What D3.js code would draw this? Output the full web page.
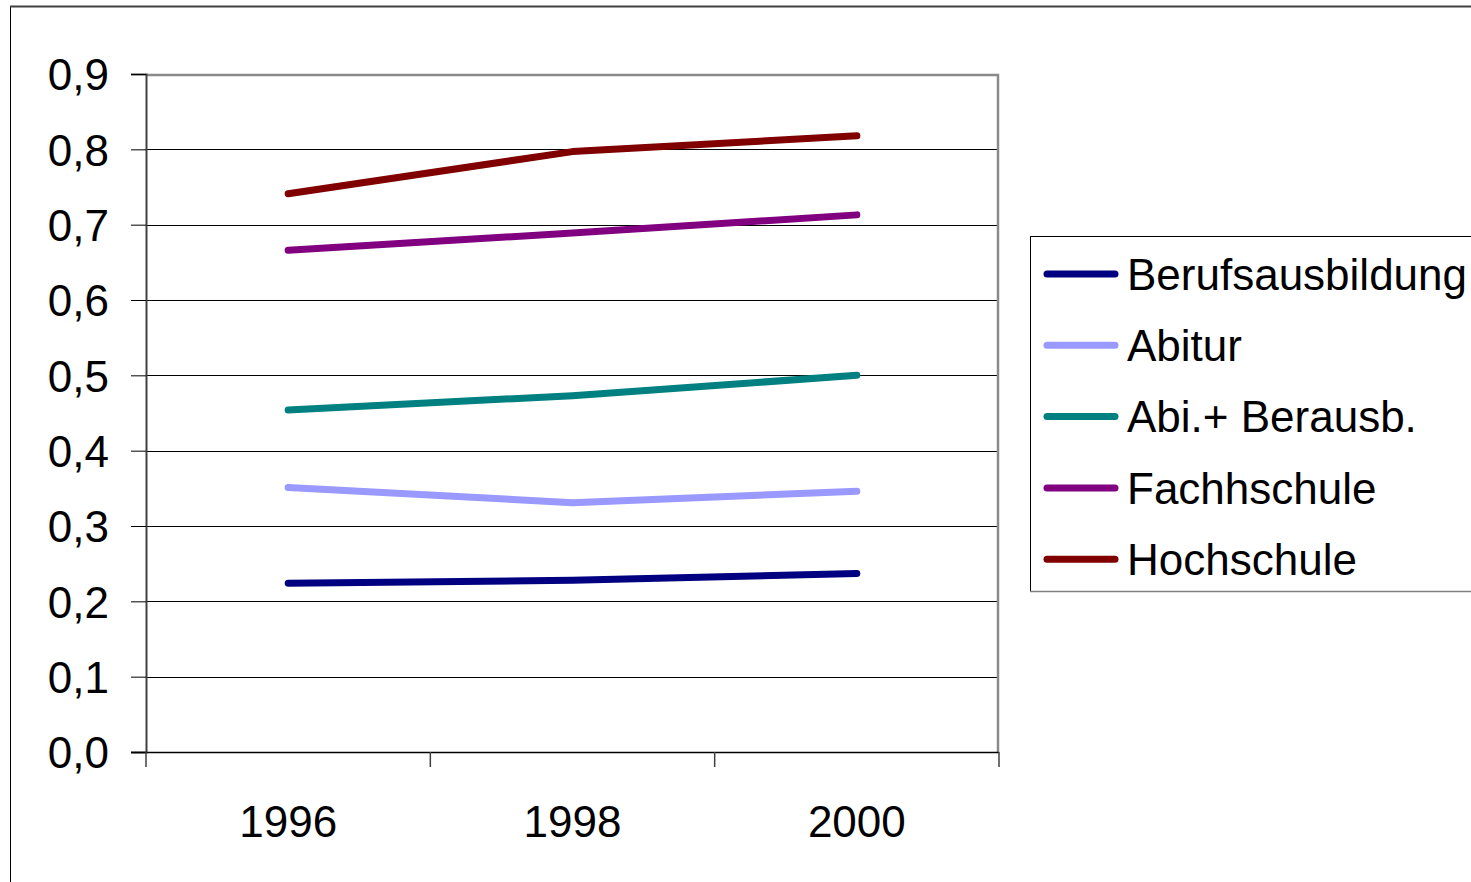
<!DOCTYPE html>
<html>
<head>
<meta charset="utf-8">
<script src="https://cdn.jsdelivr.net/npm/d3@7"></script>
<style>
  html, body { margin: 0; padding: 0; background: #fff; overflow: hidden; }
  svg { display: block; }
  text { font-family: "Liberation Sans", Arial, sans-serif; fill: #000; }
</style>
</head>
<body>
<svg id="chart" width="1471" height="882"></svg>
<script>
const years = ["1996", "1998", "2000"];
const seriesNames = ["Berufsausbildung", "Abitur", "Abi.+ Berausb.", "Fachhschule", "Hochschule"];
const berufsausbildung = [0.224, 0.228, 0.237];
const abitur = [0.351, 0.331, 0.346];
const abiBerausb = [0.454, 0.473, 0.500];
const fachhschule = [0.666, 0.689, 0.713];
const hochschule = [0.741, 0.797, 0.818];
const yTicks = [0, 0.1, 0.2, 0.3, 0.4, 0.5, 0.6, 0.7, 0.8, 0.9];
const seriesColors = ["#000080", "#9999FF", "#008080", "#800080", "#800000"];

const seriesValues = [berufsausbildung, abitur, abiBerausb, fachhschule, hochschule];

const svg = d3.select("#chart");
const pL = 146, pR = 999, pT = 74, pB = 752;

// outer chart frame
svg.append("rect").attr("x", 10.5).attr("y", 6.5).attr("width", 1500).attr("height", 900)
  .attr("fill", "#fff").attr("stroke", "#000").attr("stroke-width", 1);
svg.append("line").attr("x1", 10).attr("x2", 1471).attr("y1", 6.5).attr("y2", 6.5)
  .attr("stroke", "#404040").attr("stroke-width", 2);

const x = d3.scaleBand().domain(years).range([pL, pR]).padding(0);
const y = d3.scaleLinear().domain([0, 0.9]).range([pB, pT]);

// gridlines
svg.append("g").selectAll("line").data(yTicks.filter(t => t > 0 && t < 0.9)).join("line")
  .attr("x1", pL).attr("x2", pR)
  .attr("y1", d => Math.round(y(d)) + 0.5).attr("y2", d => Math.round(y(d)) + 0.5)
  .attr("stroke", "#000").attr("stroke-width", 1);

// plot border (top/right gray)
svg.append("path")
  .attr("d", `M${pL},${pT + 1} H${pR - 1} V${pB}`)
  .attr("fill", "none").attr("stroke", "#8a8a8a").attr("stroke-width", 2.5);

// y axis
const yAxis = d3.axisLeft(y).tickValues(yTicks).tickSize(15).tickPadding(22)
  .tickFormat(d => d3.format(".1f")(d).replace(".", ","));
const gy = svg.append("g").attr("transform", `translate(${pL},0)`).call(yAxis);
gy.select(".domain").attr("stroke", "#404040").attr("stroke-width", 2);
gy.selectAll(".tick line").attr("stroke", "#000").attr("stroke-width", 1);
gy.selectAll(".tick text").attr("font-size", 44).attr("font-family", "Liberation Sans, Arial, sans-serif")
  .attr("dy", "0.36em");

// x axis
const xAxis = d3.axisBottom(x).tickSize(0).tickPadding(0);
const gx = svg.append("g").attr("transform", `translate(0,${pB})`).call(xAxis);
gx.select(".domain").remove();
gx.selectAll(".tick text").attr("font-size", 44).attr("font-family", "Liberation Sans, Arial, sans-serif")
  .attr("dy", 0).attr("y", 85);
svg.append("line").attr("x1", pL - 15).attr("x2", pR).attr("y1", pB + 0.5).attr("y2", pB + 0.5)
  .attr("stroke", "#000").attr("stroke-width", 1.5);
const bandEdges = years.map(d => x(d)).concat([pR]);
svg.append("g").selectAll("line").data(bandEdges).join("line")
  .attr("x1", d => d).attr("x2", d => d).attr("y1", pB).attr("y2", pB + 15)
  .attr("stroke", "#404040").attr("stroke-width", 1.5);

// lines
const line = d3.line().x((d, i) => x(years[i]) + x.bandwidth() / 2).y(d => y(d));
svg.append("g").selectAll("path").data(seriesValues).join("path")
  .attr("d", d => line(d))
  .attr("fill", "none")
  .attr("stroke", (d, i) => seriesColors[i])
  .attr("stroke-width", 7)
  .attr("stroke-linecap", "round")
  .attr("stroke-linejoin", "round");

// legend
const lg = svg.append("g").attr("transform", "translate(1030,236)");
lg.append("rect").attr("x", 0.5).attr("y", 0.5).attr("width", 500).attr("height", 355)
  .attr("fill", "#fff").attr("stroke", "#000").attr("stroke-width", 1);
lg.append("line").attr("x1", 0).attr("x2", 500).attr("y1", 355.5).attr("y2", 355.5)
  .attr("stroke", "#808080").attr("stroke-width", 1.5);
const items = lg.selectAll("g.item").data(seriesNames).join("g").attr("class", "item")
  .attr("transform", (d, i) => `translate(0,${38 + i * 71.3})`);
items.append("line").attr("x1", 17).attr("x2", 85).attr("y1", 0).attr("y2", 0)
  .attr("stroke", (d, i) => seriesColors[i]).attr("stroke-width", 7).attr("stroke-linecap", "round");
items.append("text").attr("x", 97).attr("y", 0).attr("dy", "0.36em")
  .attr("font-size", 44).text(d => d);
</script>
</body>
</html>
